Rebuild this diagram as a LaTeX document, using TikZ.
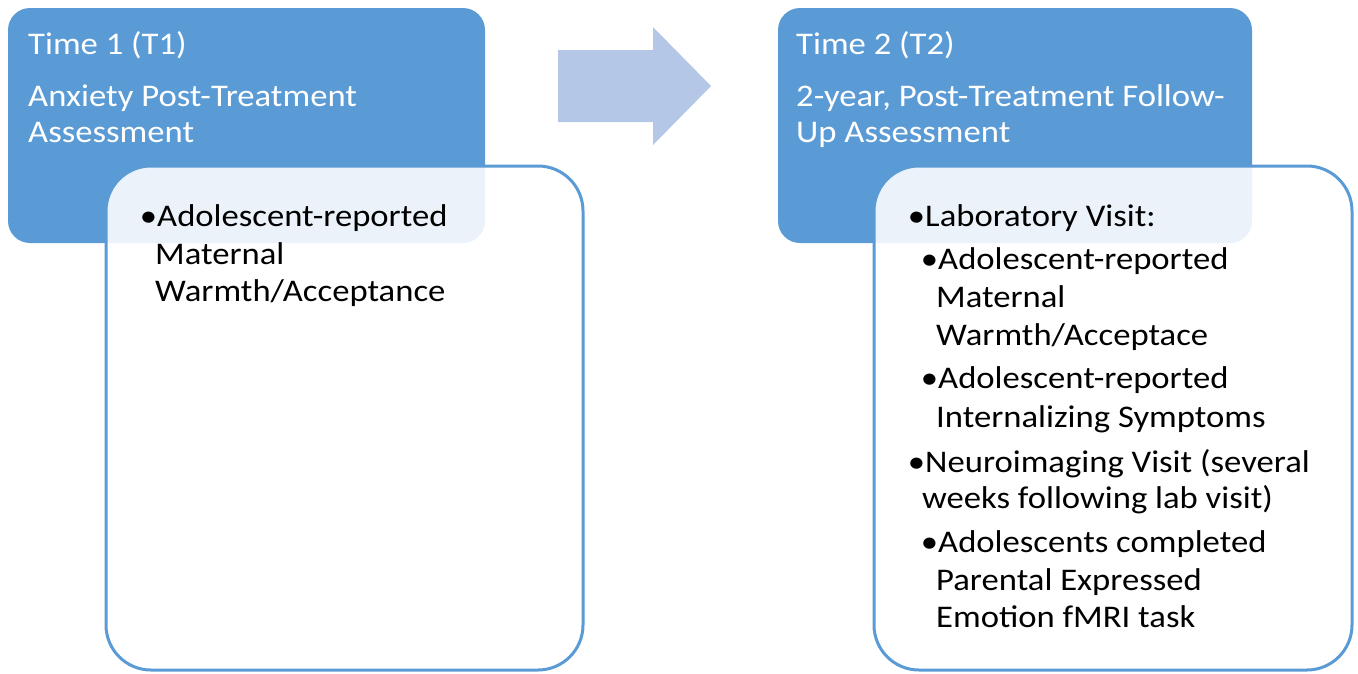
\documentclass[tikz,border=0pt]{standalone}
\usepackage{fontspec}
\setmainfont{Carlito}[FakeStretch=1.1]
\begin{document}
\begin{tikzpicture}[x=1pt,y=-1pt,
  hdr/.style={draw=none,fill=hblue,rounded corners=22pt},
  body/.style={draw=hblue,line width=3pt,fill=white,fill opacity=0.88,draw opacity=1,rounded corners=45pt},
  wt/.style={anchor=base west,inner sep=0pt,text=white,font=\fontsize{31.5}{38}\selectfont},
  bt/.style={anchor=base west,inner sep=0pt,text=black,font=\fontsize{31.5}{38}\selectfont}]
\definecolor{hblue}{HTML}{5B9BD5}
\definecolor{ablue}{HTML}{B4C7E7}
\newcommand{\bul}{\llap{•}}
\useasboundingbox (0,0) rectangle (1358,673);
% left
\draw[hdr] (8,8) rectangle (485,243);
\draw[body] (106,166) rectangle (583,670);
\node[wt] (t1) at (28,54) {Time 1 (T1)};
\node[wt] (t1a) at (28,106) {Anxiety Post-Treatment};
\node[wt] (t1b) at (28,142) {Assessment};
\node[bt] (l1) at (157,226) {\bul Adolescent-reported};
\node[bt] (l2) at (155,264) {Maternal};
\node[bt] (l3) at (155,301) {Warmth/Acceptance};
% arrow
\fill[ablue] (558,50) -- (653,50) -- (653,27) -- (711,86) -- (653,145) -- (653,122) -- (558,122) -- cycle;
% right
\draw[hdr] (778,8) rectangle (1252,243);
\draw[body] (874,166) rectangle (1352,670);
\node[wt] (t2) at (796,54) {Time 2 (T2)};
\node[wt] (t2a) at (796,106) {2-year, Post-Treatment Follow-};
\node[wt] (t2b) at (796,142) {Up Assessment};
\node[bt] (r1) at (925,226) {\bul Laboratory Visit:};
\node[bt] (r2) at (938,269) {\bul Adolescent-reported};
\node[bt] (r3) at (936,307) {Maternal};
\node[bt] (r4) at (936,345) {Warmth/Acceptace};
\node[bt] (r5) at (938,388) {\bul Adolescent-reported};
\node[bt] (r6) at (936,427) {Internalizing Symptoms};
\node[bt] (r7) at (925,472) {\bul Neuroimaging Visit (several};
\node[bt] (r8) at (922,508) {weeks following lab visit)};
\node[bt] (r9) at (938,552) {\bul Adolescents completed};
\node[bt] (r10) at (936,590) {Parental Expressed};
\node[bt] (r11) at (936,627) {Emotion fMRI task};
\end{tikzpicture}
\end{document}
